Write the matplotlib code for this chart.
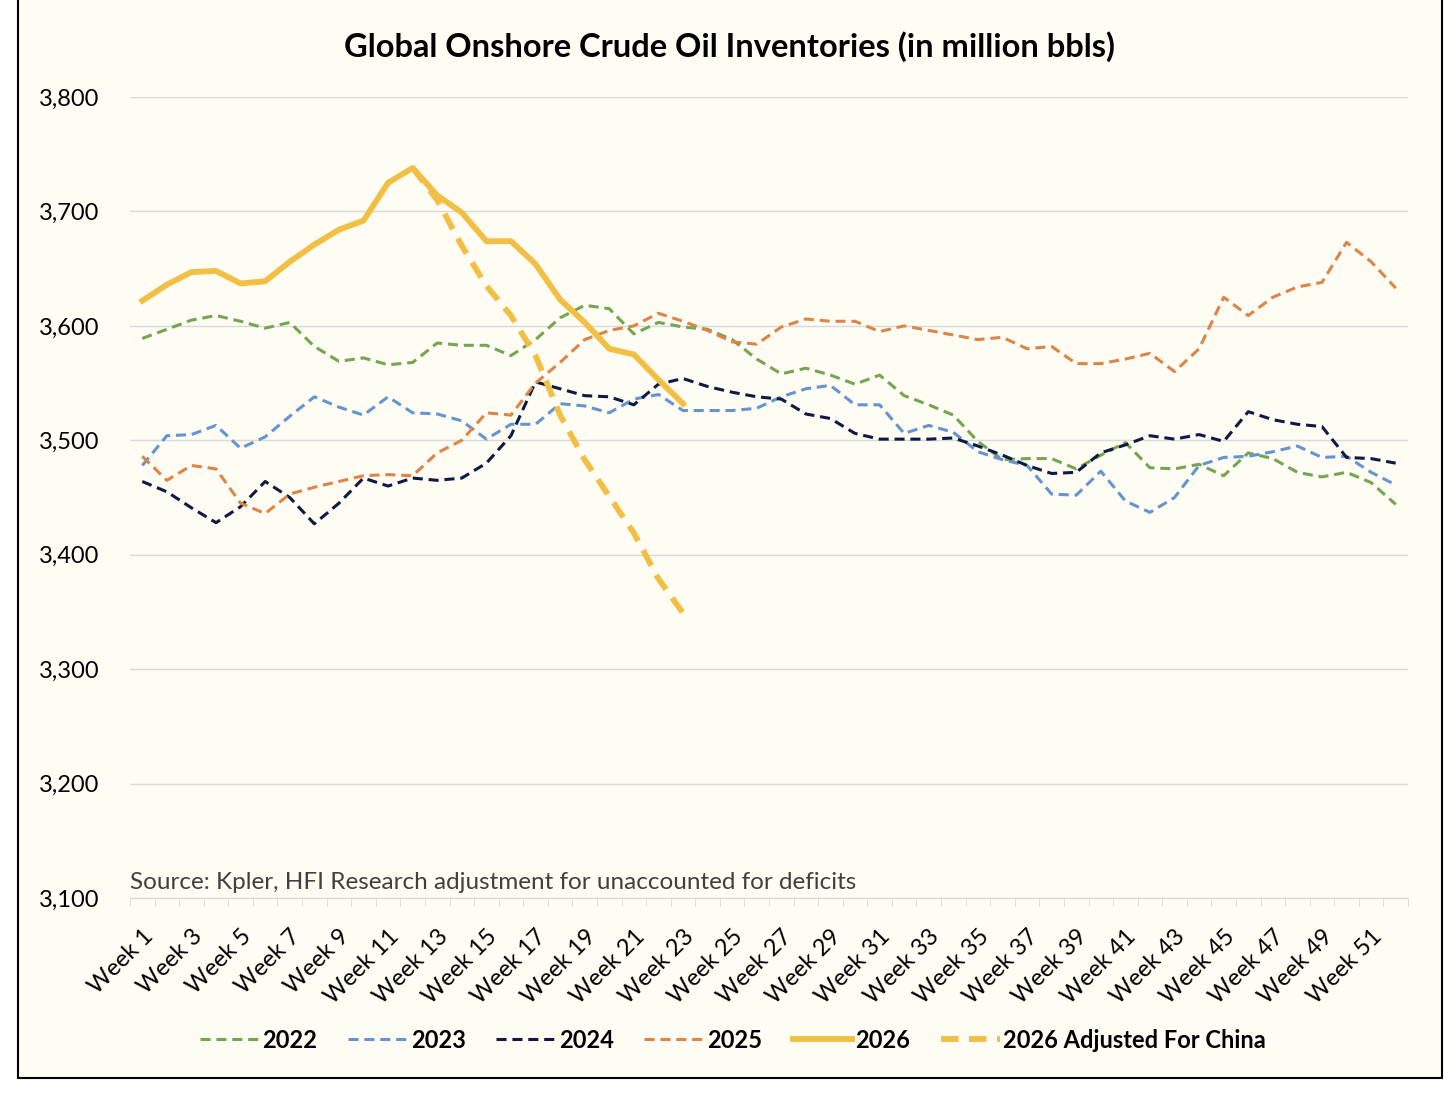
import matplotlib.pyplot as plt
import matplotlib.patches as mpatches
import numpy as np

plt.rcParams['font.family'] = ['Lato', 'DejaVu Sans']

weeks = [f"Week {i}" for i in range(1, 53)]

inv_2022 = [3589, 3597, 3605, 3609, 3604, 3598, 3603, 3582, 3569, 3572, 3566, 3568,
            3585, 3583, 3583, 3574, 3588, 3607, 3618, 3615, 3593, 3603, 3599, 3597,
            3588, 3571, 3558, 3563, 3557, 3549, 3557, 3539, 3531, 3522, 3499, 3483,
            3484, 3484, 3475, 3487, 3498, 3476, 3475, 3479, 3469, 3489, 3484, 3472,
            3468, 3472, 3463, 3444]
inv_2023 = [3478, 3504, 3505, 3513, 3493, 3503, 3521, 3538, 3529, 3522, 3538, 3524,
            3523, 3517, 3501, 3514, 3514, 3532, 3530, 3524, 3536, 3540, 3526, 3526,
            3526, 3528, 3538, 3545, 3548, 3531, 3531, 3506, 3513, 3507, 3490, 3483,
            3478, 3453, 3452, 3473, 3447, 3437, 3450, 3478, 3485, 3486, 3490, 3495,
            3485, 3486, 3472, 3461]
inv_2024 = [3464, 3455, 3441, 3428, 3442, 3464, 3450, 3427, 3445, 3467, 3460, 3467,
            3465, 3467, 3480, 3504, 3551, 3545, 3539, 3538, 3531, 3549, 3554, 3547,
            3542, 3538, 3536, 3523, 3519, 3506, 3501, 3501, 3501, 3502, 3495, 3487,
            3478, 3471, 3472, 3489, 3496, 3504, 3501, 3505, 3499, 3525, 3518, 3514,
            3512, 3485, 3484, 3480]
inv_2025 = [3486, 3465, 3478, 3475, 3445, 3436, 3453, 3459, 3464, 3469, 3470, 3469,
            3489, 3500, 3524, 3522, 3550, 3568, 3588, 3596, 3600, 3611, 3604, 3596,
            3586, 3584, 3599, 3606, 3604, 3604, 3595, 3600, 3596, 3592, 3588, 3590,
            3580, 3582, 3567, 3567, 3571, 3576, 3560, 3580, 3625, 3609, 3625, 3634,
            3638, 3673, 3656, 3633]
inv_2026 = [3622, 3636, 3647, 3648, 3637, 3639, 3656, 3671, 3684, 3692, 3725, 3738,
            3714, 3699, 3674, 3674, 3654, 3623, 3603, 3580, 3575, 3553, 3532]
inv_2026_adj = [None] * 11 + [3738, 3710, 3670, 3635, 3609, 3574, 3522, 3483, 3451,
                              3419, 3379, 3349]

fig = plt.figure(figsize=(14.56, 10.93), dpi=100)
fig.patch.set_facecolor('white')
bg = mpatches.Rectangle((18 / 1456, 15 / 1093), 1424 / 1456, 1.0, transform=fig.transFigure,
                        facecolor='#FEFCF3', edgecolor='black', linewidth=1.5, zorder=-10)
fig.patches.append(bg)

ax = fig.add_axes([130 / 1456, 195 / 1093, 1278 / 1456, 801 / 1093])
ax.set_facecolor('none')

x = np.arange(len(weeks))
thin = (0, (3.3, 1.9))
ax.plot(x, inv_2022, color='#74A650', linestyle=thin, linewidth=2.2, label='2022')
ax.plot(x, inv_2023, color='#6495CE', linestyle=thin, linewidth=2.2, label='2023')
ax.plot(x, inv_2024, color='#0D1A45', linestyle=thin, linewidth=2.2, label='2024')
ax.plot(x, inv_2025, color='#DD8548', linestyle=thin, linewidth=2.2, label='2025')
ax.plot(x[:len(inv_2026)], inv_2026, color='#F2BF45', linewidth=4.2, label='2026')
adj = np.array([np.nan if v is None else v for v in inv_2026_adj], dtype=float)
ax.plot(x[:len(adj)], adj, color='#F2BF45', linewidth=4.2, linestyle=(0, (3, 1.8)),
        label='2026 Adjusted For China')

ax.set_xlim(-0.5, 51.5)
ax.set_ylim(3100, 3800)
ax.set_yticks(range(3100, 3801, 100))
ax.yaxis.set_major_formatter(plt.FuncFormatter(lambda v, p: f"{int(v):,}"))
ax.grid(axis='y', color='#D9D9D9', linewidth=1)
ax.set_axisbelow(True)
for s in ['top', 'right', 'left']:
    ax.spines[s].set_visible(False)
ax.spines['bottom'].set_color('#D9D9D9')
ax.tick_params(axis='y', length=0, pad=22, labelsize=17)

ax.set_xticks(x[::2])
ax.set_xticklabels(weeks[::2], rotation=45, ha='right', rotation_mode='anchor', fontsize=17)
ax.set_xticks(np.arange(-0.5, 52, 1), minor=True)
ax.tick_params(axis='x', which='major', length=0, pad=20)
ax.tick_params(axis='x', which='minor', length=6, color='#D9D9D9')

ax.text(-0.5, 3104, "Source: Kpler, HFI Research adjustment for unaccounted for deficits",
        fontsize=17.5, color='#404040', ha='left', va='bottom')

fig.text(729 / 1456, 1 - 47 / 1093, "Global Onshore Crude Oil Inventories (in million bbls)",
         fontsize=23.5, fontweight='bold', ha='center', va='center')

leg = fig.legend(loc='center', bbox_to_anchor=(733 / 1456, 1 - 1040 / 1093), ncol=6,
                 frameon=False, fontsize=17, handlelength=2.5, columnspacing=1.3,
                 handletextpad=0.15)
for t in leg.get_texts():
    t.set_fontweight('bold')

fig.savefig('out.png', dpi=100)
